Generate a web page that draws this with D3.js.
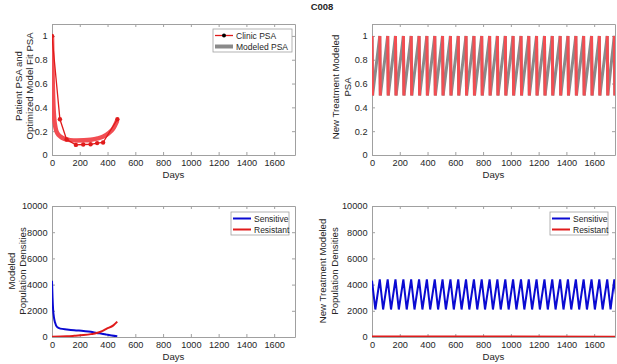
<!DOCTYPE html>
<html>
<head>
<meta charset="utf-8">
<script src="https://cdn.jsdelivr.net/npm/d3@7"></script>
<style>
  body { margin: 0; background: #fff; }
  svg { font-family: "Liberation Sans", Arial, sans-serif; }
  .tick text { fill: #262626; font-size: 9.2px; }
  .ax path, .ax line { stroke: #a0a0a0; }
  .label { fill: #262626; font-size: 9.6px; }
  .leg { fill: #262626; font-size: 8.5px; }
</style>
</head>
<body>
<svg id="fig" width="617" height="364"></svg>
<script>
// clinic PSA (normalised) and fitted model
const clinicDays = [0, 57, 105, 172, 225, 278, 325, 368, 471];
const clinicPSA = [1.0, 0.30, 0.13, 0.085, 0.088, 0.09, 0.10, 0.105, 0.30];
const modelDays = [0, 5, 10, 15, 25, 40, 60, 90, 130, 180, 230, 280, 330, 370, 410, 440, 470];
const modelPSA = [1.0, 0.62, 0.42, 0.32, 0.23, 0.18, 0.155, 0.135, 0.125, 0.122, 0.123, 0.128, 0.14, 0.155, 0.185, 0.22, 0.29];

// modeled populations under original treatment
const sensDays = [0, 4, 8, 14, 22, 36, 60, 107, 160, 227, 280, 322, 360, 394, 430, 470];
const sensVals = [4300, 3000, 2100, 1500, 1100, 770, 640, 580, 520, 460, 400, 310, 250, 180, 110, 50];
const resDays = [0, 107, 160, 227, 280, 322, 360, 394, 442, 470];
const resVals = [20, 50, 90, 150, 220, 300, 450, 640, 890, 1170];

// new treatment: cycle peaks
const peakDays = [0, 56, 113, 169, 226, 282, 339, 395, 452, 508, 565, 621, 677, 734, 790, 847,
  903, 960, 1016, 1073, 1129, 1185, 1242, 1298, 1355, 1411, 1468, 1524, 1581, 1637, 1694, 1745];
const psaHigh = 1.0, psaLow = 0.5, psaDrop = 4;
const popHigh = 4400, popLow = 2100, popDrop = 24;
const newResDays = [0, 1750];
const newResVals = [40, 15];

const psaTicks = [0, 0.2, 0.4, 0.6, 0.8, 1];
const popTicks = [0, 2000, 4000, 6000, 8000, 10000];
const dayTicks = [0, 200, 400, 600, 800, 1000, 1200, 1400, 1600];

const svg = d3.select('#fig');

const redThick = '#f24d52';
const grey = '#8a8a8a';
const blue = '#0a0ad2';
const red = '#e01b1b';

svg.append('text')
  .attr('x', 322).attr('y', 10)
  .attr('text-anchor', 'middle')
  .style('font-weight', 'bold').style('font-size', '9.5px').attr('fill', '#262626')
  .text('C008');

function panel(box, yDomain, yTicks, id) {
  const w = box.r - box.l, h = box.b - box.t;
  const g = svg.append('g').attr('transform', `translate(${box.l},${box.t})`);
  const x = d3.scaleLinear().domain([0, 1750]).range([0, w]);
  const y = d3.scaleLinear().domain(yDomain).range([h, 0]);

  g.append('clipPath').attr('id', id)
    .append('rect').attr('width', w).attr('height', h);

  g.append('g').attr('class', 'ax').attr('transform', `translate(0,${h})`)
    .call(d3.axisBottom(x).tickValues(dayTicks).tickFormat(String)
      .tickSizeInner(-3).tickSizeOuter(0).tickPadding(4));
  g.append('g').attr('class', 'ax')
    .call(d3.axisTop(x).tickValues(dayTicks).tickSizeInner(-3).tickSizeOuter(0).tickFormat(''));
  g.append('g').attr('class', 'ax')
    .call(d3.axisLeft(y).tickValues(yTicks).tickFormat(String)
      .tickSizeInner(-3).tickSizeOuter(0).tickPadding(4.5));
  g.append('g').attr('class', 'ax').attr('transform', `translate(${w},0)`)
    .call(d3.axisRight(y).tickValues(yTicks).tickSizeInner(-3).tickSizeOuter(0).tickFormat(''));

  g.append('text').attr('class', 'label')
    .attr('x', w / 2).attr('y', h + 23)
    .attr('text-anchor', 'middle').text('Days');

  const plot = g.append('g').attr('clip-path', `url(#${id})`);
  return { g, plot, x, y, w, h };
}

function yLabel(lines, cy) {
  lines.forEach(t => {
    svg.append('text').attr('class', 'label')
      .attr('transform', `translate(${t.x},${cy}) rotate(-90)`)
      .attr('text-anchor', 'middle').text(t.s);
  });
}

function legend(g, x0, y0, wBox, items) {
  const lg = g.append('g').attr('transform', `translate(${x0},${y0})`);
  lg.append('rect').attr('width', wBox).attr('height', 23)
    .attr('fill', '#fff').attr('stroke', '#a0a0a0').attr('stroke-width', 0.8);
  items.forEach((it, i) => {
    const yy = 6.5 + i * 11;
    lg.append('line').attr('x1', 2).attr('x2', 20).attr('y1', yy).attr('y2', yy)
      .attr('stroke', it.color).attr('stroke-width', it.sw);
    if (it.dot) lg.append('circle').attr('cx', 11).attr('cy', yy).attr('r', 2).attr('fill', '#000');
    lg.append('text').attr('class', 'leg').attr('x', 23).attr('y', yy + 3).text(it.label);
  });
}

// ---- top left ----
const p1 = panel({ l: 52, r: 295, t: 24, b: 155 }, [0, 1.1], psaTicks, 'c1');
const line1 = d3.line().x(d => p1.x(d[0])).y(d => p1.y(d[1]));
p1.plot.append('path')
  .datum(modelDays.map((d, i) => [d, modelPSA[i]]))
  .attr('fill', 'none').attr('stroke', redThick).attr('stroke-width', 4.5)
  .attr('d', line1.curve(d3.curveMonotoneX));
const clinic = clinicDays.map((d, i) => [d, clinicPSA[i]]);
p1.plot.append('path').datum(clinic)
  .attr('fill', 'none').attr('stroke', red).attr('stroke-width', 1.3)
  .attr('d', d3.line().x(d => p1.x(d[0])).y(d => p1.y(d[1])));
p1.plot.selectAll('circle.pt').data(clinic).enter().append('circle')
  .attr('cx', d => p1.x(d[0])).attr('cy', d => p1.y(d[1])).attr('r', 2.2).attr('fill', red);
legend(p1.g, 161, 5, 79, [
  { label: 'Clinic PSA', color: red, sw: 1.3, dot: true },
  { label: 'Modeled PSA', color: grey, sw: 4 }
]);
yLabel([{ x: 21.5, s: 'Patient PSA and' }, { x: 32.5, s: 'Optimized Model Fit PSA' }], 86);

// ---- top right ----
const p2 = panel({ l: 372, r: 615, t: 24, b: 155 }, [0, 1.1], psaTicks, 'c2');
const psaPts = [];
peakDays.forEach(d => { psaPts.push([d, psaHigh]); psaPts.push([d + psaDrop, psaLow]); });
const line2 = d3.line().x(d => p2.x(d[0])).y(d => p2.y(d[1]));
p2.plot.append('path').datum(psaPts)
  .attr('fill', 'none').attr('stroke', grey).attr('stroke-width', 3).attr('d', line2);
p2.plot.selectAll('path.drop').data(peakDays).enter().append('path')
  .attr('class', 'drop')
  .attr('fill', 'none').attr('stroke', redThick).attr('stroke-width', 3)
  .attr('d', d => line2([[d, psaHigh], [d + psaDrop, psaLow]]));
yLabel([{ x: 339, s: 'New Treatment Modeled' }, { x: 351, s: 'PSA' }], 87);

// ---- bottom left ----
const p3 = panel({ l: 52, r: 295, t: 206, b: 337 }, [0, 10000], popTicks, 'c3');
const line3 = d3.line().x(d => p3.x(d[0])).y(d => p3.y(d[1])).curve(d3.curveMonotoneX);
p3.plot.append('path').datum(sensDays.map((d, i) => [d, sensVals[i]]))
  .attr('fill', 'none').attr('stroke', blue).attr('stroke-width', 2).attr('d', line3);
p3.plot.append('path').datum(resDays.map((d, i) => [d, resVals[i]]))
  .attr('fill', 'none').attr('stroke', red).attr('stroke-width', 2).attr('d', line3);
legend(p3.g, 179, 6, 58, [
  { label: 'Sensitive', color: blue, sw: 2 },
  { label: 'Resistant', color: red, sw: 2 }
]);
yLabel([{ x: 15, s: 'Modeled' }, { x: 26, s: 'Population Densities' }], 271);

// ---- bottom right ----
const p4 = panel({ l: 372, r: 615, t: 206, b: 337 }, [0, 10000], popTicks, 'c4');
const popPts = [];
peakDays.forEach((d, i) => {
  popPts.push([d, i === 0 ? 4300 : popHigh]);
  popPts.push([d + popDrop, popLow]);
});
const line4 = d3.line().x(d => p4.x(d[0])).y(d => p4.y(d[1]));
p4.plot.append('path').datum(popPts)
  .attr('fill', 'none').attr('stroke', blue).attr('stroke-width', 2).attr('d', line4);
p4.plot.append('path').datum(newResDays.map((d, i) => [d, newResVals[i]]))
  .attr('fill', 'none').attr('stroke', red).attr('stroke-width', 2.2).attr('d', line4);
legend(p4.g, 178, 6, 58, [
  { label: 'Sensitive', color: blue, sw: 2 },
  { label: 'Resistant', color: red, sw: 2 }
]);
yLabel([{ x: 326, s: 'New Treatment Modeled' }, { x: 338, s: 'Population Densities' }], 271);
</script>
</body>
</html>
